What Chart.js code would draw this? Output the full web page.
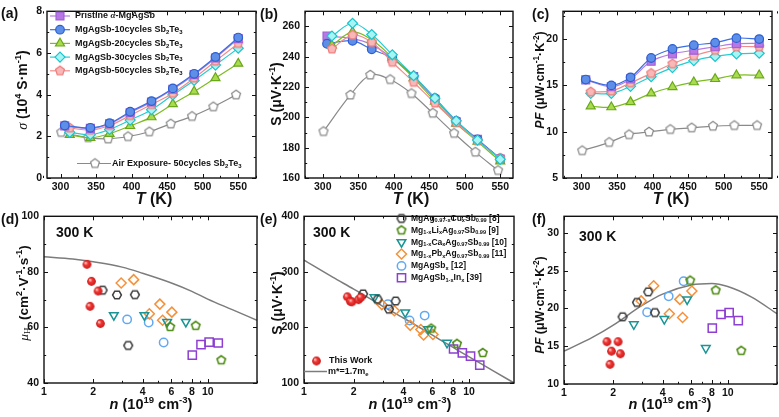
<!DOCTYPE html>
<html lang="en">
<head>
<meta charset="UTF-8">
<title>MgAgSb thermoelectric properties</title>
<script src="https://cdn.jsdelivr.net/npm/chart.js"></script>
<style>
  html, body { margin: 0; padding: 0; background: #fff; }
  body { position: relative; width: 779px; height: 417px; overflow: hidden; }
  canvas { position: absolute; }
</style>
</head>
<body>
<script>
// ---- (a)-(c): temperature dependence ----
var tMain = [306, 342, 369, 398, 428, 458, 488, 518, 550];
var tLate = [313, 342, 369, 398, 428, 458, 488, 518, 550];
var tAir = [301, 339, 367, 395, 425, 455, 485, 515, 547];

var sigPristine = [2.50, 2.38, 2.60, 3.13, 3.65, 4.26, 4.96, 5.76, 6.69];
var sig10 = [2.52, 2.41, 2.63, 3.18, 3.69, 4.30, 5.00, 5.81, 6.74];
var sig20 = [2.07, 1.93, 2.12, 2.50, 2.92, 3.55, 4.15, 4.80, 5.49];
var sig30 = [2.19, 2.08, 2.33, 2.78, 3.28, 3.99, 4.68, 5.42, 6.23];
var sig50 = [2.40, 2.30, 2.52, 3.00, 3.53, 4.07, 4.80, 5.61, 6.46];
var sigAir = [2.19, 1.94, 1.88, 1.99, 2.22, 2.60, 2.96, 3.42, 3.99];

var seePristine = [253.6, 252, 248, 239, 227, 212, 197, 185.5, 172.5];
var see10 = [248.6, 250.5, 244.9, 239, 227, 212.7, 197.7, 185.5, 172.9];
var see20 = [247.5, 256.4, 251.2, 239.5, 226, 210.5, 196, 184, 171];
var see30 = [253.7, 262.1, 254.7, 241.3, 227.5, 212.7, 197.7, 185, 172.3];
var see50 = [245.2, 254.3, 249.5, 236.4, 223.2, 209.5, 196.5, 184.5, 173];
var seeAir = [190.7, 214.8, 228, 225, 215.8, 202.8, 189.5, 177.1, 165];

var pfPristine = [15.6, 14.85, 15.7, 17.6, 18.4, 18.8, 19.17, 19.5, 19.55];
var pf10 = [15.63, 15.0, 15.87, 17.96, 18.93, 19.34, 19.62, 20.1, 20.0];
var pf20 = [12.75, 12.65, 13.2, 14.14, 14.83, 15.35, 15.7, 16.1, 16.1];
var pf30 = [14.14, 14.14, 14.9, 15.94, 16.92, 17.68, 18.13, 18.4, 18.47];
var pf50 = [14.3, 14.4, 15.28, 16.3, 17.33, 18.2, 18.8, 19.17, 19.17];
var pfAir = [7.96, 8.85, 9.69, 9.97, 10.25, 10.42, 10.6, 10.67, 10.67];

// ---- (d)-(f): 300 K vs carrier concentration (10^19 cm^-3) ----
var nWork = [1.83, 1.91, 1.95, 2.14, 2.21];
var muWork = [82.7, 67.6, 76.6, 73.1, 61.4];
var seeWork = [255, 247, 246, 250, 254];
var pfWork = [15.6, 12.6, 14.35, 15.6, 14.0];

var nCu = [2.28, 2.79, 3.27, 3.59];
var muCu = [73.4, 71.7, 53.5, 71.8];
var seeCu = [260.3, 250.4, 232.9, 247.5];
var pfCu = [18.9, 20.8, 22.2, 19.45];

var nLi = [5.9, 8.45, 12.1];
var muLi = [60.2, 60.6, 48.2];
var seeLi = [198, 170.6, 154.2];
var pfLi = [23.7, 22.4, 14.4];

var nCa = [2.67, 4.1, 5.65, 7.35];
var muCa = [64.4, 64.4, 62.0, 62.0];
var seeCa = [254.5, 227, 196.9, 172.4];
var pfCa = [17.9, 18.6, 21.2, 14.75];

var nPb = [2.96, 3.53, 4.4, 5.1, 5.3, 6.04];
var muPb = [76.0, 77.2, 64.9, 68.4, 62.6, 65.5];
var seePb = [241.1, 230, 203.8, 196.2, 186.4, 187.4];
var pfPb = [21.0, 23.0, 19.3, 21.2, 18.8, 22.3];

var nSbx = [3.22, 4.36, 5.38];
var muSbx = [62.9, 61.8, 54.6];
var seeSbx = [241.6, 212.6, 221.3];
var pfSbx = [19.5, 21.6, 23.6];

var nIn = [8.05, 9.1, 10.2, 11.6];
var muIn = [50.0, 53.8, 54.7, 54.4];
var seeIn = [161.2, 154.2, 148.4, 132.2];
var pfIn = [17.4, 19.2, 19.45, 18.4];

// m* = 1.7 me model curve
var nModel = [1, 1.5, 2, 3, 4, 6, 8, 10, 14, 20];
var muModel = [85.4, 84.6, 83.6, 81.7, 79.5, 76.0, 73.0, 70.2, 66.5, 62.6];
var seeModel = [321, 290, 269, 238, 217, 186, 164, 147, 122, 95];
var pfModel = [14.35, 16.2, 17.8, 20.4, 21.9, 23.1, 23.3, 22.9, 21.5, 19.3];

// ---- helpers ----
var FONT = '"Liberation Sans", Arial, sans-serif';
var SERIF = '"Liberation Serif", "Times New Roman", serif';
Chart.defaults.font.family = FONT;
Chart.defaults.color = '#111';

function polyMarker(sides, r, fill, stroke, lw, startDeg) {
    var c = document.createElement('canvas');
    var s = Math.ceil(2 * r + 2 * lw + 2);
    c.width = s; c.height = s;
    var g = c.getContext('2d');
    g.beginPath();
    for (var i = 0; i < sides; i++) {
        var a = (startDeg + i * 360 / sides) * Math.PI / 180;
        var px = s / 2 + r * Math.sin(a), py = s / 2 - r * Math.cos(a);
        if (i === 0) g.moveTo(px, py); else g.lineTo(px, py);
    }
    g.closePath();
    if (fill) { g.fillStyle = fill; g.fill(); }
    g.lineWidth = lw; g.strokeStyle = stroke; g.stroke();
    return c;
}

function ballMarker(r) {
    var c = document.createElement('canvas');
    var s = Math.ceil(2 * r + 2);
    c.width = s; c.height = s;
    var g = c.getContext('2d');
    var grd = g.createRadialGradient(s / 2 - r * 0.35, s / 2 - r * 0.35, 0.5, s / 2, s / 2, r);
    grd.addColorStop(0, '#ffc2bc');
    grd.addColorStop(0.35, '#f23a36');
    grd.addColorStop(1, '#c8181a');
    g.fillStyle = grd;
    g.beginPath(); g.arc(s / 2, s / 2, r, 0, Math.PI * 2); g.fill();
    return c;
}

var pentPink = polyMarker(5, 4.7, '#f8b8b8', '#f07c7c', 1.2, 0);
var pentGray = polyMarker(5, 4.7, '#ffffff', '#8a8a8a', 1.2, 0);
var pentGreen = polyMarker(5, 4.4, null, '#4b8a10', 1.6, 0);
var hexBlack = polyMarker(6, 4.4, null, '#3a3a3a', 1.5, 30);
var ballRed = ballMarker(4.4);

var stPristine = {shape: 'rect', r: 5.6, fill: '#b777e4', edge: '#a060d6', line: '#b47ce2'};
var st10 = {shape: 'circle', r: 4.3, fill: '#5d8fe8', edge: '#2c5fd0', line: '#3b6fe2'};
var st20 = {shape: 'triangle', r: 5.2, fill: '#a9db4f', edge: '#6aa81a', line: '#7cbc22'};
var st30 = {shape: 'rectRot', r: 5.0, fill: '#a6f4f4', edge: '#1cc4cc', line: '#28ccd2'};
var st50 = {shape: pentPink, r: 4.7, line: '#f28c8c'};
var stAir = {shape: pentGray, r: 4.7, line: '#8a8a8a'};

var stWork = {shape: ballRed, r: 4.4};
var stCu = {shape: hexBlack, r: 4.4};
var stLi = {shape: pentGreen, r: 4.4};
var stCa = {shape: 'triangle', r: 5, rot: 180, fill: 'rgba(0,0,0,0)', edge: '#1a9494', bw: 1.5};
var stPb = {shape: 'rectRot', r: 5, fill: 'rgba(0,0,0,0)', edge: '#f5913a', bw: 1.5};
var stSbx = {shape: 'circle', r: 4.2, fill: 'rgba(0,0,0,0)', edge: '#62a8f2', bw: 1.5};
var stIn = {shape: 'rect', r: 5.8, fill: 'rgba(0,0,0,0)', edge: '#8c3fd0', bw: 1.5};

function pts(xs, ys) {
    return xs.map(function (x, i) { return {x: x, y: ys[i]}; });
}

function lineSet(xs, ys, st) {
    return {
        data: pts(xs, ys), showLine: true, tension: 0.35,
        borderColor: st.line, borderWidth: 1.2,
        pointStyle: st.shape, pointRadius: st.r, pointRotation: st.rot || 0,
        pointBackgroundColor: st.fill, pointBorderColor: st.edge, pointBorderWidth: st.bw || 1.2
    };
}

function dotSet(xs, ys, st) {
    return {
        data: pts(xs, ys), showLine: false,
        pointStyle: st.shape, pointRadius: st.r, pointRotation: st.rot || 0,
        pointBackgroundColor: st.fill, pointBorderColor: st.edge, pointBorderWidth: st.bw || 1.4
    };
}

function modelSet(xs, ys) {
    return {
        data: pts(xs, ys), showLine: true, pointRadius: 0,
        borderColor: '#7c7c7c', borderWidth: 1.5, cubicInterpolationMode: 'monotone', order: 10
    };
}

function fontStr(s, size) {
    return (s.i ? 'italic ' : '') + (s.n ? 'normal ' : 'bold ') + size + 'px ' + (s.serif ? SERIF : FONT);
}

// text with sub/superscripts, x = centre (or left edge)
function drawRich(ctx, segs, x, y, size, align, rot) {
    ctx.save();
    ctx.translate(x, y);
    if (rot) ctx.rotate(-Math.PI / 2);
    ctx.textBaseline = 'middle';
    ctx.textAlign = 'left';
    ctx.fillStyle = '#111';
    var w = 0, items = [];
    segs.forEach(function (s) {
        if (typeof s === 'string') s = {t: s};
        var fs = (s.sup || s.sub) ? size * 0.66 : size;
        ctx.font = fontStr(s, fs);
        var sw = ctx.measureText(s.t).width;
        items.push({s: s, fs: fs, w: sw});
        w += sw;
    });
    var cx = align === 'left' ? 0 : -w / 2;
    items.forEach(function (it) {
        ctx.font = fontStr(it.s, it.fs);
        var dy = it.s.sup ? -size * 0.33 : (it.s.sub ? size * 0.28 : 0);
        ctx.fillText(it.s.t, cx, dy);
        cx += it.w;
    });
    ctx.restore();
}

function drawMarker(ctx, st, x, y) {
    if (typeof st.shape !== 'string') {
        ctx.drawImage(st.shape, x - st.shape.width / 2, y - st.shape.height / 2);
        return;
    }
    ctx.save();
    ctx.fillStyle = st.fill; ctx.strokeStyle = st.edge; ctx.lineWidth = st.bw || 1.2;
    Chart.helpers.drawPoint(ctx, {pointStyle: st.shape, radius: st.r, rotation: st.rot || 0, borderWidth: st.bw || 1.2}, x, y);
    ctx.restore();
}

function linAxis(min, max, ticks, pad) {
    return {
        type: 'linear', min: min, max: max,
        afterBuildTicks: function (s) { s.ticks = ticks.map(function (v) { return {value: v}; }); },
        ticks: {autoSkip: false, maxRotation: 0, padding: pad, font: {size: 10.5, weight: 'bold'}, color: '#111'},
        grid: {display: false, drawTicks: false}, border: {display: false}
    };
}

function logAxis(min, max, ticks, pad) {
    var ax = linAxis(min, max, ticks, pad);
    ax.type = 'logarithmic';
    ax.ticks.callback = function (v) { return String(v); };
    return ax;
}

function makePanel(cfg) {
    var rg = cfg.region, fr = cfg.frame;
    var w = rg[2] - rg[0], h = rg[3] - rg[1];
    var cv = document.createElement('canvas');
    cv.width = w; cv.height = h;
    cv.style.left = rg[0] + 'px'; cv.style.top = rg[1] + 'px';
    cv.style.width = w + 'px'; cv.style.height = h + 'px';
    document.body.appendChild(cv);

    var leftW = fr[0] - rg[0], bottomH = rg[3] - fr[3];
    cfg.x.afterFit = function (s) { s.height = bottomH; };
    cfg.y.afterFit = function (s) { s.width = leftW; };

    var deco = {
        id: 'deco',
        afterDraw: function (chart) {
            var ctx = chart.ctx, a = chart.chartArea;
            var xs = chart.scales.x, ys = chart.scales.y;
            ctx.save();
            ctx.strokeStyle = '#111';
            ctx.lineWidth = 1;
            function seg(x1, y1, x2, y2) { ctx.beginPath(); ctx.moveTo(x1, y1); ctx.lineTo(x2, y2); ctx.stroke(); }
            function xt(v, len) {
                var p = Math.round(xs.getPixelForValue(v)) + 0.5;
                seg(p, a.bottom, p, a.bottom - len); seg(p, a.top, p, a.top + len);
            }
            function yt(v, len) {
                var p = Math.round(ys.getPixelForValue(v)) + 0.5;
                seg(a.left, p, a.left + len, p); seg(a.right, p, a.right - len, p);
            }
            cfg.xMajor.forEach(function (v) { xt(v, 4); });
            cfg.xMinor.forEach(function (v) { xt(v, 2.2); });
            cfg.yMajor.forEach(function (v) { yt(v, 4); });
            cfg.yMinor.forEach(function (v) { yt(v, 2.2); });
            ctx.lineWidth = 1.4;
            ctx.strokeRect(a.left, a.top, a.right - a.left, a.bottom - a.top);
            ctx.restore();

            ctx.save();
            ctx.translate(-rg[0], -rg[1]);
            cfg.deco(ctx);
            ctx.restore();
        }
    };

    new Chart(cv, {
        type: 'scatter',
        data: {datasets: cfg.datasets},
        options: {
            responsive: false, animation: false, devicePixelRatio: 1,
            layout: {autoPadding: false, padding: {left: 0, top: fr[1] - rg[1], right: rg[2] - fr[2], bottom: 0}},
            plugins: {legend: {display: false}, tooltip: {enabled: false}},
            scales: {x: cfg.x, y: cfg.y}
        },
        plugins: [deco]
    });
}

var tMajor = [300, 350, 400, 450, 500, 550];
var tMinor = [275, 325, 375, 425, 475, 525, 575];
var nMajor = [1, 2, 4, 6, 8, 10];
var nMinor = [3, 5, 7, 9, 20];

var titleT = [{t: 'T', i: 1}, ' (K)'];
var titleN = [{t: 'n', i: 1}, ' (10', {t: '19', sup: 1}, ' cm', {t: '-3', sup: 1}, ')'];
var titleS = ['S (μV·K', {t: '-1', sup: 1}, ')'];
var titlePF = [{t: 'PF', i: 1}, ' (μW·cm', {t: '-1', sup: 1}, '·K', {t: '-2', sup: 1}, ')'];
var sbte = [{t: '2', sub: 1}, 'Te', {t: '3', sub: 1}];

var legA = [
    [stPristine, ['Pristine ', {t: 'α', i: 1, serif: 1}, '-MgAgSb']],
    [st10, ['MgAgSb-10cycles Sb'].concat(sbte)],
    [st20, ['MgAgSb-20cycles Sb'].concat(sbte)],
    [st30, ['MgAgSb-30cycles Sb'].concat(sbte)],
    [st50, ['MgAgSb-50cycles Sb'].concat(sbte)]
];

var legE = [
    [stCu, ['MgAg', {t: '0.97-x', sub: 1}, 'Cu', {t: 'x', sub: 1}, 'Sb', {t: '0.99', sub: 1}, ' [8]']],
    [stLi, ['Mg', {t: '1-x', sub: 1}, 'Li', {t: 'x', sub: 1}, 'Ag', {t: '0.97', sub: 1}, 'Sb', {t: '0.99', sub: 1}, ' [9]']],
    [stCa, ['Mg', {t: '1-x', sub: 1}, 'Ca', {t: 'x', sub: 1}, 'Ag', {t: '0.97', sub: 1}, 'Sb', {t: '0.99', sub: 1}, ' [10]']],
    [stPb, ['Mg', {t: '1-x', sub: 1}, 'Pb', {t: 'x', sub: 1}, 'Ag', {t: '0.97', sub: 1}, 'Sb', {t: '0.99', sub: 1}, ' [11]']],
    [stSbx, ['MgAgSb', {t: 'x', sub: 1}, ' [12]']],
    [stIn, ['MgAgSb', {t: '1-x', sub: 1}, 'In', {t: 'x', sub: 1}, ' [39]']]
];

function label(ctx, txt, x, y) { drawRich(ctx, [txt], x, y, 14, 'left'); }

// (a) conductivity
makePanel({
    region: [0, 0, 259, 210], frame: [47, 5, 256, 178],
    x: linAxis(281, 575, tMajor, 3), y: linAxis(0, 8, [0, 2, 4, 6, 8], 5),
    xMajor: tMajor, xMinor: tMinor, yMajor: [0, 2, 4, 6, 8], yMinor: [1, 3, 5, 7],
    datasets: [
        lineSet(tMain, sig10, st10), lineSet(tMain, sigPristine, stPristine),
        lineSet(tLate, sig50, st50), lineSet(tLate, sig30, st30),
        lineSet(tLate, sig20, st20), lineSet(tAir, sigAir, stAir)
    ],
    deco: function (ctx) {
        label(ctx, '(a)', 1, 14);
        drawRich(ctx, [{t: 'σ', i: 1, serif: 1, n: 1}, ' (10', {t: '4', sup: 1}, ' S·m', {t: '-1', sup: 1}, ')'], 23, 90, 14, 'center', true);
        drawRich(ctx, titleT, 154, 200, 16);
        legA.forEach(function (e, i) {
            var y = 16 + i * 13.7;
            ctx.strokeStyle = e[0].line; ctx.lineWidth = 1.2;
            ctx.beginPath(); ctx.moveTo(50, y); ctx.lineTo(70, y); ctx.stroke();
            drawMarker(ctx, e[0], 60, y);
            drawRich(ctx, e[1], 75, y, 9, 'left');
        });
        ctx.strokeStyle = stAir.line; ctx.lineWidth = 1.2;
        ctx.beginPath(); ctx.moveTo(77, 163.5); ctx.lineTo(111, 163.5); ctx.stroke();
        drawMarker(ctx, stAir, 95, 163.5);
        drawRich(ctx, ['Air Exposure- 50cycles Sb'].concat(sbte), 112, 164, 9, 'left');
    }
});

// (b) Seebeck
makePanel({
    region: [259, 0, 517, 210], frame: [305, 4, 513, 178],
    x: linAxis(275, 568, tMajor, 3), y: linAxis(160, 270, [160, 180, 200, 220, 240, 260], 5),
    xMajor: tMajor, xMinor: tMinor, yMajor: [160, 180, 200, 220, 240, 260], yMinor: [170, 190, 210, 230, 250],
    datasets: [
        lineSet(tLate, see30, st30), lineSet(tLate, see50, st50),
        lineSet(tLate, see20, st20), lineSet(tMain, see10, st10),
        lineSet(tMain, seePristine, stPristine), lineSet(tAir, seeAir, stAir)
    ],
    deco: function (ctx) {
        label(ctx, '(b)', 260, 15);
        drawRich(ctx, titleS, 277, 94, 14, 'center', true);
        drawRich(ctx, titleT, 411, 200, 16);
    }
});

// (c) power factor
makePanel({
    region: [517, 0, 779, 210], frame: [563, 5, 772, 178],
    x: linAxis(274, 568, tMajor, 3), y: linAxis(5, 23, [5, 10, 15, 20], 5),
    xMajor: tMajor, xMinor: tMinor, yMajor: [5, 10, 15, 20], yMinor: [7.5, 12.5, 17.5, 22.5],
    datasets: [
        lineSet(tMain, pf10, st10), lineSet(tMain, pfPristine, stPristine),
        lineSet(tLate, pf50, st50), lineSet(tLate, pf30, st30),
        lineSet(tLate, pf20, st20), lineSet(tAir, pfAir, stAir)
    ],
    deco: function (ctx) {
        label(ctx, '(c)', 532, 15);
        drawRich(ctx, titlePF, 541, 80, 12.5, 'center', true);
        drawRich(ctx, titleT, 671, 200, 16);
    }
});

// (d) Hall mobility
makePanel({
    region: [0, 205, 259, 417], frame: [44, 212, 257, 383],
    x: logAxis(1, 20, nMajor, 3), y: linAxis(40, 100, [40, 60, 80, 100], 5),
    xMajor: nMajor, xMinor: nMinor, yMajor: [40, 60, 80, 100], yMinor: [50, 70, 90],
    datasets: [
        dotSet(nWork, muWork, stWork), dotSet(nCu, muCu, stCu), dotSet(nLi, muLi, stLi),
        dotSet(nCa, muCa, stCa), dotSet(nPb, muPb, stPb), dotSet(nSbx, muSbx, stSbx),
        dotSet(nIn, muIn, stIn), modelSet(nModel, muModel)
    ],
    deco: function (ctx) {
        label(ctx, '(d)', 1, 220);
        label(ctx, '300 K', 56, 233);
        drawRich(ctx, [{t: 'μ', i: 1, serif: 1, n: 1}, {t: 'H', sub: 1, serif: 1, n: 1}, '  (cm', {t: '2', sup: 1}, '·V', {t: '-1', sup: 1}, '·s', {t: '-1', sup: 1}, ')'], 24, 293, 13.5, 'center', true);
        drawRich(ctx, titleN, 151, 405, 14.5);
    }
});

// (e) Seebeck vs n
makePanel({
    region: [259, 205, 517, 417], frame: [304, 211, 514, 383],
    x: logAxis(1, 18.7, nMajor, 3), y: linAxis(100, 400, [100, 200, 300, 400], 5),
    xMajor: nMajor, xMinor: [3, 5, 7, 9], yMajor: [100, 200, 300, 400], yMinor: [150, 250, 350],
    datasets: [
        dotSet(nWork, seeWork, stWork), dotSet(nCu, seeCu, stCu), dotSet(nLi, seeLi, stLi),
        dotSet(nCa, seeCa, stCa), dotSet(nPb, seePb, stPb), dotSet(nSbx, seeSbx, stSbx),
        dotSet(nIn, seeIn, stIn), modelSet(nModel, seeModel)
    ],
    deco: function (ctx) {
        label(ctx, '(e)', 260, 220);
        label(ctx, '300 K', 313, 233);
        drawRich(ctx, titleS, 278, 303, 14, 'center', true);
        drawRich(ctx, titleN, 410, 405, 14.5);
        legE.forEach(function (e, i) {
            var y = 218.5 + i * 11.85;
            drawMarker(ctx, e[0], 401.5, y);
            drawRich(ctx, e[1], 411, y, 8.5, 'left');
        });
        drawMarker(ctx, stWork, 316.5, 361);
        drawRich(ctx, ['This Work'], 329, 361, 9, 'left');
        ctx.strokeStyle = '#7c7c7c'; ctx.lineWidth = 1.5;
        ctx.beginPath(); ctx.moveTo(304, 371.5); ctx.lineTo(327, 371.5); ctx.stroke();
        drawRich(ctx, ['m*=1.7m', {t: 'e', sub: 1}], 328, 371.5, 9, 'left');
    }
});

// (f) power factor vs n
makePanel({
    region: [517, 205, 779, 417], frame: [564, 214, 777, 384],
    x: logAxis(1, 20, nMajor, 3), y: linAxis(10, 32.2, [10, 15, 20, 25, 30], 5),
    xMajor: nMajor, xMinor: nMinor, yMajor: [10, 15, 20, 25, 30], yMinor: [12.5, 17.5, 22.5, 27.5],
    datasets: [
        dotSet(nWork, pfWork, stWork), dotSet(nCu, pfCu, stCu), dotSet(nLi, pfLi, stLi),
        dotSet(nCa, pfCa, stCa), dotSet(nPb, pfPb, stPb), dotSet(nSbx, pfSbx, stSbx),
        dotSet(nIn, pfIn, stIn), modelSet(nModel, pfModel)
    ],
    deco: function (ctx) {
        label(ctx, '(f)', 532, 220);
        label(ctx, '300 K', 579, 237);
        drawRich(ctx, titlePF, 541, 305, 12.5, 'center', true);
        drawRich(ctx, titleN, 670, 405, 14.5);
    }
});
</script>
</body>
</html>
